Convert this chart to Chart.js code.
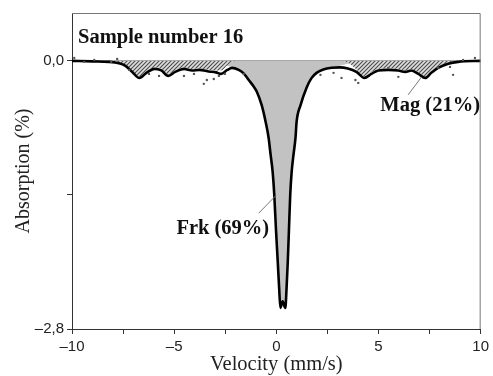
<!DOCTYPE html>
<html>
<head>
<meta charset="utf-8">
<script src="https://cdn.jsdelivr.net/npm/chart.js@4.4.0/dist/chart.umd.min.js"></script>
<style>
  html, body { margin: 0; padding: 0; background: #fff; }
  #chart { display: block; }
</style>
</head>
<body>
<canvas id="chart" width="493" height="376"></canvas>
<script>
// total fitted envelope (velocity mm/s, absorption %)
const envVel = [-10, -9.0, -8.2, -7.7, -7.4, -7.05, -6.7, -6.36, -5.97, -5.63, -5.29, -4.95, -4.51, -4.12, -3.78, -3.3, -2.95, -2.71, -2.4, -2.17, -1.84, -1.6, -1.35, -1.15, -0.96, -0.72, -0.52, -0.38, -0.28, -0.18, -0.1, -0.02, 0.07, 0.14, 0.2, 0.31, 0.44, 0.5, 0.56, 0.62, 0.68, 0.75, 0.84, 0.94, 0.99, 1.19, 1.48, 1.72, 1.97, 2.3, 2.7, 3.1, 3.5, 3.92, 4.31, 4.65, 4.99, 5.48, 5.97, 6.31, 6.6, 6.95, 7.29, 7.58, 7.92, 8.41, 8.9, 10];
const envAbs = [0, -0.005, -0.01, -0.025, -0.05, -0.115, -0.178, -0.125, -0.084, -0.10, -0.157, -0.115, -0.084, -0.10, -0.094, -0.11, -0.12, -0.136, -0.095, -0.073, -0.094, -0.13, -0.20, -0.255, -0.32, -0.46, -0.64, -0.80, -0.98, -1.16, -1.40, -1.75, -2.1, -2.38, -2.58, -2.51, -2.58, -2.38, -2.1, -1.75, -1.40, -1.16, -0.98, -0.80, -0.64, -0.46, -0.28, -0.18, -0.125, -0.09, -0.072, -0.068, -0.08, -0.115, -0.178, -0.136, -0.10, -0.094, -0.10, -0.115, -0.10, -0.136, -0.178, -0.125, -0.073, -0.031, -0.01, 0];

// ferrihydrite doublet (Frk)
const frkVel = [-10, -3.3, -3.0, -2.71, -2.4, -2.17, -1.84, -1.6, -1.35, -1.15, -0.96, -0.72, -0.52, -0.38, -0.28, -0.18, -0.1, -0.02, 0.07, 0.14, 0.2, 0.31, 0.44, 0.5, 0.56, 0.62, 0.68, 0.75, 0.84, 0.94, 0.99, 1.19, 1.48, 1.72, 1.97, 2.3, 2.7, 3.1, 3.5, 3.92, 4.2, 10];
const frkAbs = [0, 0, -0.015, -0.03, -0.05, -0.065, -0.09, -0.13, -0.20, -0.255, -0.32, -0.46, -0.64, -0.80, -0.98, -1.16, -1.40, -1.75, -2.1, -2.38, -2.58, -2.51, -2.58, -2.38, -2.1, -1.75, -1.40, -1.16, -0.98, -0.80, -0.64, -0.46, -0.28, -0.18, -0.12, -0.085, -0.065, -0.05, -0.03, -0.015, 0, 0];

// magnetite sextet (Mag)
const magVel = [-10, -8.2, -7.7, -7.4, -7.05, -6.7, -6.36, -5.97, -5.63, -5.29, -4.95, -4.51, -4.12, -3.78, -3.3, -2.95, -2.71, -2.4, -2.17, -1.9, 3.2, 3.6, 3.92, 4.31, 4.65, 4.99, 5.48, 5.97, 6.31, 6.6, 6.95, 7.29, 7.58, 7.92, 8.41, 8.9, 10];
const magAbs = [0, 0, -0.02, -0.045, -0.1, -0.16, -0.11, -0.07, -0.085, -0.14, -0.10, -0.07, -0.085, -0.08, -0.095, -0.10, -0.10, -0.045, -0.01, 0, 0, -0.03, -0.09, -0.16, -0.12, -0.085, -0.08, -0.085, -0.10, -0.085, -0.12, -0.16, -0.11, -0.06, -0.02, 0, 0];

// measured points that stand off the fitted curve
const expVel = [-9.89, -9.4, -8.91, -8.08, -7.79, -7.2, -6.23, -5.74, -4.52, -4.03, -3.55, -3.4, -3.06, -2.81, -2.52, -1.6, 2.16, 2.8, 3.19, 3.87, 4.01, 5.48, 5.97, 7.92, 8.5, 8.65, 9.14, 9.72];
const expAbs = [0.03, -0.01, 0.01, -0.01, 0.02, -0.094, -0.136, -0.157, -0.157, -0.136, -0.24, -0.2, -0.19, -0.157, -0.136, -0.136, -0.146, -0.125, -0.178, -0.2, -0.23, -0.073, -0.167, -0.073, -0.063, -0.146, 0.01, 0.03];

const yTicks = [-2.8, -1.4, 0];
const xLabels = { '-10': '\u201310', '-5': '\u20135', '0': '0', '5': '5', '10': '10' };

const toPts = (xs, ys) => xs.map((x, i) => ({ x: x, y: ys[i] }));

function hatch() {
  const c = document.createElement('canvas');
  c.width = 4; c.height = 4;
  const g = c.getContext('2d');
  g.fillStyle = '#dedede';
  g.fillRect(0, 0, 4, 4);
  g.strokeStyle = '#4a4a4a';
  g.lineWidth = 1.1;
  g.beginPath();
  g.moveTo(-1, 5); g.lineTo(5, -1);
  g.moveTo(-1, 1); g.lineTo(1, -1);
  g.moveTo(3, 5); g.lineTo(5, 3);
  g.stroke();
  return g.createPattern(c, 'repeat');
}

const serif = '"Liberation Serif", "Times New Roman", serif';
const sans = '"Liberation Sans", Arial, sans-serif';

const labels = {
  id: 'labels',
  afterDraw(chart) {
    const { ctx, chartArea: a, scales: { x, y } } = chart;
    ctx.save();
    // frame
    ctx.strokeStyle = '#777';
    ctx.lineWidth = 1;
    ctx.beginPath();
    ctx.moveTo(a.left, a.top + 0.5);
    ctx.lineTo(a.right - 0.5, a.top + 0.5);
    ctx.lineTo(a.right - 0.5, a.bottom);
    ctx.stroke();

    ctx.fillStyle = '#111';
    ctx.font = 'bold 20.5px ' + serif;
    ctx.textBaseline = 'alphabetic';
    ctx.textAlign = 'left';
    ctx.fillText('Sample number 16', a.left + 6, a.top + 30);

    // leaders
    ctx.strokeStyle = '#777';
    ctx.lineWidth = 1;
    ctx.beginPath();
    ctx.moveTo(x.getPixelForValue(-0.86), y.getPixelForValue(-1.59));
    ctx.lineTo(x.getPixelForValue(-0.04), y.getPixelForValue(-1.41));
    ctx.moveTo(x.getPixelForValue(6.45), y.getPixelForValue(-0.355));
    ctx.lineTo(x.getPixelForValue(7.1), y.getPixelForValue(-0.17));
    ctx.stroke();

    ctx.textAlign = 'center';
    ctx.textBaseline = 'middle';
    ctx.fillText('Frk (69%)', x.getPixelForValue(-2.62), y.getPixelForValue(-1.755));
    ctx.fillText('Mag (21%)', x.getPixelForValue(7.53), y.getPixelForValue(-0.47));
    ctx.restore();
  }
};

new Chart(document.getElementById('chart'), {
  type: 'line',
  data: {
    datasets: [
      {
        label: 'Exp',
        data: toPts(expVel, expAbs),
        showLine: false,
        pointRadius: 1.2,
        pointBorderWidth: 0,
        pointBackgroundColor: '#555',
        order: 0
      },
      {
        label: 'Total',
        data: toPts(envVel, envAbs),
        borderColor: '#000',
        borderWidth: 2.6,
        pointRadius: 0,
        fill: false,
        cubicInterpolationMode: 'monotone',
        order: 1
      },
      {
        label: 'Mag',
        data: toPts(magVel, magAbs),
        borderWidth: 0,
        borderColor: 'rgba(0,0,0,0)',
        backgroundColor: hatch(),
        pointRadius: 0,
        fill: 'origin',
        cubicInterpolationMode: 'monotone',
        order: 2
      },
      {
        label: 'Frk',
        data: toPts(frkVel, frkAbs),
        borderWidth: 0,
        borderColor: 'rgba(0,0,0,0)',
        backgroundColor: '#c2c2c2',
        pointRadius: 0,
        fill: 'origin',
        cubicInterpolationMode: 'monotone',
        order: 3
      }
    ]
  },
  options: {
    responsive: false,
    animation: false,
    layout: { padding: { top: 13, right: 10, left: 0, bottom: 0 } },
    plugins: { legend: { display: false }, tooltip: { enabled: false } },
    scales: {
      x: {
        type: 'linear',
        min: -10,
        max: 10,
        afterFit(s) { s.height = 47; },
        afterBuildTicks(s) {
          s.ticks = [-10, -7.5, -5, -2.5, 0, 2.5, 5, 7.5, 10].map(v => ({ value: v }));
        },
        ticks: {
          color: '#222',
          font: { family: sans, size: 15 },
          padding: 4,
          maxRotation: 0,
          callback: v => xLabels[String(v)] || ''
        },
        grid: { drawOnChartArea: false, tickLength: 5, tickColor: '#333' },
        border: { color: '#333', width: 1 },
        title: {
          display: true,
          text: 'Velocity (mm/s)',
          color: '#222',
          font: { family: serif, size: 20.5 },
          padding: { top: 0, bottom: -1 }
        }
      },
      y: {
        type: 'linear',
        min: -2.8,
        max: 0.5,
        afterFit(s) { s.width = 72; },
        afterBuildTicks(s) { s.ticks = yTicks.map(v => ({ value: v })); },
        ticks: {
          color: '#222',
          font: { family: sans, size: 15 },
          padding: 3,
          callback: v => v === 0 ? '0,0' : (v === -2.8 ? '\u20132,8' : '')
        },
        grid: {
          color: c => (c.tick && c.tick.value === 0 ? '#a8a8a8' : 'rgba(0,0,0,0)'),
          tickColor: '#333',
          tickLength: 5
        },
        border: { color: '#333', width: 1 },
        title: {
          display: true,
          text: 'Absorption (%)',
          color: '#222',
          font: { family: serif, size: 20 },
          padding: { top: 12, bottom: 0 }
        }
      }
    }
  },
  plugins: [labels]
});
</script>
</body>
</html>
